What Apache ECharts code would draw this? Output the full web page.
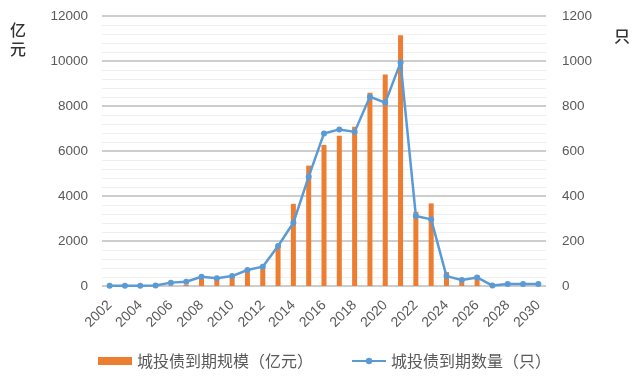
<!DOCTYPE html>
<html><head><meta charset="utf-8">
<script src="https://cdn.jsdelivr.net/npm/echarts@6/dist/echarts.min.js"></script>
<style>html,body{margin:0;padding:0;background:#fff}#c{width:640px;height:387px}</style>
</head><body><div id="c"></div>
<script>
var years = ['2002','2003','2004','2005','2006','2007','2008','2009','2010','2011','2012','2013','2014','2015','2016','2017','2018','2019','2020','2021','2022','2023','2024','2025','2026','2027','2028','2029','2030'];
var scaleValues = [5,5,5,10,30,60,350,300,420,620,780,1780,3650,5350,6270,6680,7080,8590,9400,11150,3300,3670,620,200,450,30,20,20,20];
var countValues = [1,1,1,2,15,19,41,34,44,71,86,178,281,486,678,696,685,841,815,993,311,296,44,27,38,2,9,9,9];
var leftTicks = {min:0, max:12000, interval:2000};
var rightTicks = {min:0, max:1200, interval:200};
var seriesNames = ['城投债到期规模（亿元）','城投债到期数量（只）'];

var chart = echarts.init(document.getElementById('c'), null, {renderer:'canvas'});
var txt = '#595959';
var numFont = 'Liberation Sans';
var cjkFont = 'Noto Sans CJK SC';
var plain = function (v) { return String(v); };
chart.setOption({
  animation:false,
  grid:{left:102, right:94, top:16, bottom:101, containLabel:false},
  legend:{
    left:98, top:353, padding:0, itemGap:38, itemWidth:34, itemHeight:8,
    textStyle:{color:txt, fontSize:16, fontFamily:cjkFont},
    data:[{name:seriesNames[0], icon:'rect'},{name:seriesNames[1]}]
  },
  xAxis:{
    type:'category', data:years, boundaryGap:true,
    axisLine:{show:false}, axisTick:{show:false},
    axisLabel:{interval:1, rotate:45, color:txt, fontSize:14, fontFamily:numFont, margin:17}
  },
  yAxis:[{
    type:'value', min:leftTicks.min, max:leftTicks.max, interval:leftTicks.interval,
    axisLine:{show:false}, axisTick:{show:false},
    axisLabel:{color:txt, fontSize:13.5, fontFamily:numFont, margin:14, formatter:plain},
    splitLine:{show:true, lineStyle:{color:'#bdbdbd', width:1.5}},
    minorTick:{show:false, splitNumber:5},
    minorSplitLine:{show:true, lineStyle:{color:'#efefef', width:1}}
  },{
    type:'value', min:rightTicks.min, max:rightTicks.max, interval:rightTicks.interval,
    axisLine:{show:false}, axisTick:{show:false},
    axisLabel:{color:txt, fontSize:13.5, fontFamily:numFont, margin:16, formatter:plain},
    splitLine:{show:false}
  }],
  graphic:[
    {type:'text', left:10, top:20, style:{text:'亿\n元', fill:'#333333', font:'500 16px "Noto Sans CJK SC"', lineHeight:19}},
    {type:'text', left:614, top:28, style:{text:'只', fill:'#333333', font:'500 16px "Noto Sans CJK SC"'}}
  ],
  series:[{
    name:seriesNames[0], type:'bar', data:scaleValues, yAxisIndex:0,
    barWidth:5, itemStyle:{color:'#ED7D31'}
  },{
    name:seriesNames[1], type:'line', data:countValues, yAxisIndex:1,
    symbol:'circle', symbolSize:6, lineStyle:{color:'#5B9BD5', width:2.5},
    itemStyle:{color:'#5B9BD5'}, z:5
  }]
});
</script></body></html>
